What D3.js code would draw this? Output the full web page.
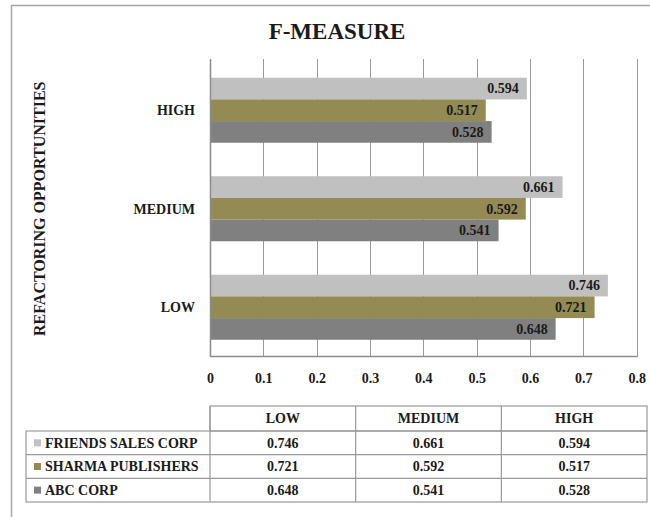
<!DOCTYPE html>
<html>
<head>
<meta charset="utf-8">
<script src="https://cdn.jsdelivr.net/npm/d3@7"></script>
<style>
  html, body { margin: 0; padding: 0; background: #fff; }
  svg { display: block; }
  text { font-family: "Liberation Serif", "Times New Roman", serif; font-weight: bold; fill: #1a1a1a; }
</style>
</head>
<body>
<svg id="chart" width="650" height="517"></svg>
<script>
// ---- data ----
const categories = ["HIGH", "MEDIUM", "LOW"];          // top to bottom in chart
const tableCategories = ["LOW", "MEDIUM", "HIGH"];     // table column order
const seriesNames = ["FRIENDS SALES CORP", "SHARMA PUBLISHERS", "ABC CORP"];
const friendsSales = { LOW: 0.746, MEDIUM: 0.661, HIGH: 0.594 };
const sharmaPublishers = { LOW: 0.721, MEDIUM: 0.592, HIGH: 0.517 };
const abcCorp = { LOW: 0.648, MEDIUM: 0.541, HIGH: 0.528 };
const xTicks = [0, 0.1, 0.2, 0.3, 0.4, 0.5, 0.6, 0.7, 0.8];
const seriesColors = ["#c0c0c0", "#948a54", "#808080"];
const chartTitle = "F-MEASURE";
const yTitle = "REFACTORING OPPORTUNITIES";

const seriesValues = [friendsSales, sharmaPublishers, abcCorp];

const svg = d3.select("#chart");

// outer frame
svg.append("rect")
  .attr("x", 11.5).attr("y", 5.5).attr("width", 660).attr("height", 530)
  .attr("fill", "none").attr("stroke", "#a6a6a6").attr("stroke-width", 1.5);

// title
svg.append("text")
  .attr("x", 337).attr("y", 38.5)
  .attr("text-anchor", "middle")
  .style("font-size", "23px")
  .text(chartTitle);

// scales
const plotTop = 61, plotBottom = 356.5, plotLeft = 210, plotRight = 636.7;
const x = d3.scaleLinear().domain([0, 0.8]).range([plotLeft, plotRight]);
const y = d3.scaleBand().domain(categories).range([plotTop, plotBottom])
  .paddingInner(0.34).paddingOuter(0.17);
const ySub = d3.scaleBand().domain(d3.range(seriesNames.length)).range([0, y.bandwidth()]);

// gridlines
svg.append("g").selectAll("line").data(xTicks.slice(1)).join("line")
  .attr("x1", d => Math.round(x(d)) + 0.5).attr("x2", d => Math.round(x(d)) + 0.5)
  .attr("y1", 59).attr("y2", plotBottom)
  .attr("stroke", "#9a9a9a").attr("stroke-width", 1);

// bars
const groups = svg.append("g").selectAll("g").data(categories).join("g")
  .attr("transform", c => `translate(0,${y(c)})`);

groups.selectAll("rect")
  .data(c => seriesValues.map((s, i) => ({ i, v: s[c] })))
  .join("rect")
  .attr("x", x(0))
  .attr("y", d => ySub(d.i))
  .attr("width", d => x(d.v) - x(0))
  .attr("height", ySub.bandwidth())
  .attr("fill", d => seriesColors[d.i]);

groups.selectAll("text.val")
  .data(c => seriesValues.map((s, i) => ({ i, v: s[c] })))
  .join("text")
  .attr("class", "val")
  .attr("x", d => x(d.v) - 8)
  .attr("y", d => ySub(d.i) + ySub.bandwidth() / 2)
  .attr("dy", "0.35em")
  .attr("text-anchor", "end")
  .style("font-size", "14px")
  .text(d => d3.format(".3f")(d.v));

// axes lines
svg.append("line")
  .attr("x1", plotLeft + 0.5).attr("x2", plotLeft + 0.5)
  .attr("y1", 59).attr("y2", plotBottom)
  .attr("stroke", "#8c8c8c").attr("stroke-width", 1.5);
svg.append("line")
  .attr("x1", plotLeft).attr("x2", plotRight + 1)
  .attr("y1", plotBottom).attr("y2", plotBottom)
  .attr("stroke", "#8c8c8c").attr("stroke-width", 1.5);

// x tick labels
const xAxis = d3.axisBottom(x).tickValues(xTicks).tickSize(0).tickPadding(0)
  .tickFormat(d => d === 0 ? "0" : d3.format(".1f")(d));
const gx = svg.append("g").attr("transform", `translate(0,${plotBottom + 17})`).call(xAxis);
gx.select(".domain").remove();
gx.selectAll("text")
  .style("font-size", "14px")
  .style("font-family", '"Liberation Serif", serif')
  .style("font-weight", "bold")
  .attr("fill", "#1a1a1a");

// y category labels
svg.append("g").selectAll("text").data(categories).join("text")
  .attr("x", 195)
  .attr("y", c => y(c) + y.bandwidth() / 2)
  .attr("dy", "0.35em")
  .attr("text-anchor", "end")
  .style("font-size", "14px")
  .text(c => c);

// y title
svg.append("text")
  .attr("transform", `translate(45,${(plotTop + plotBottom) / 2}) rotate(-90)`)
  .attr("text-anchor", "middle")
  .style("font-size", "16px")
  .text(yTitle);

// ---- data table ----
const tblLabelLeft = 26, tblLeft = 210, tblRight = 647;
const colX = d3.scaleBand().domain(tableCategories).range([tblLeft, tblRight]);
const headerTop = 406, headerBottom = 431;
const rowY = d3.scaleBand().domain(d3.range(seriesNames.length)).range([headerBottom, 502]);
const lineColor = "#9a9a9a";
const tbl = svg.append("g").attr("stroke", lineColor).attr("stroke-width", 1.2);

// header box
tbl.append("rect")
  .attr("x", tblLeft).attr("y", headerTop)
  .attr("width", tblRight - tblLeft).attr("height", headerBottom - headerTop)
  .attr("fill", "none");
// data box
tbl.append("rect")
  .attr("x", tblLabelLeft).attr("y", headerBottom)
  .attr("width", tblRight - tblLabelLeft).attr("height", 502 - headerBottom)
  .attr("fill", "none");
// row lines
tbl.selectAll("line.row").data(d3.range(1, seriesNames.length)).join("line")
  .attr("class", "row")
  .attr("x1", tblLabelLeft).attr("x2", tblRight)
  .attr("y1", i => rowY(i)).attr("y2", i => rowY(i));
// column lines
tbl.selectAll("line.col").data(tableCategories).join("line")
  .attr("class", "col")
  .attr("x1", c => colX(c)).attr("x2", c => colX(c))
  .attr("y1", headerTop).attr("y2", 502);

// header text
svg.append("g").selectAll("text").data(tableCategories).join("text")
  .attr("x", c => colX(c) + colX.bandwidth() / 2)
  .attr("y", (headerTop + headerBottom) / 2)
  .attr("dy", "0.35em")
  .attr("text-anchor", "middle")
  .style("font-size", "14px")
  .text(c => c);

// rows
const rows = svg.append("g").selectAll("g").data(seriesNames).join("g")
  .attr("transform", (d, i) => `translate(0,${rowY(i) + rowY.bandwidth() / 2})`);
rows.append("rect")
  .attr("x", 34).attr("y", -3.5).attr("width", 7).attr("height", 7)
  .attr("fill", (d, i) => seriesColors[i]);
rows.append("text")
  .attr("x", 45).attr("dy", "0.35em")
  .style("font-size", "14px")
  .text(d => d);
rows.each(function(name, i) {
  d3.select(this).selectAll("text.cell").data(tableCategories).join("text")
    .attr("class", "cell")
    .attr("x", c => colX(c) + colX.bandwidth() / 2)
    .attr("dy", "0.35em")
    .attr("text-anchor", "middle")
    .style("font-size", "14px")
    .text(c => d3.format(".3f")(seriesValues[i][c]));
});
</script>
</body>
</html>
